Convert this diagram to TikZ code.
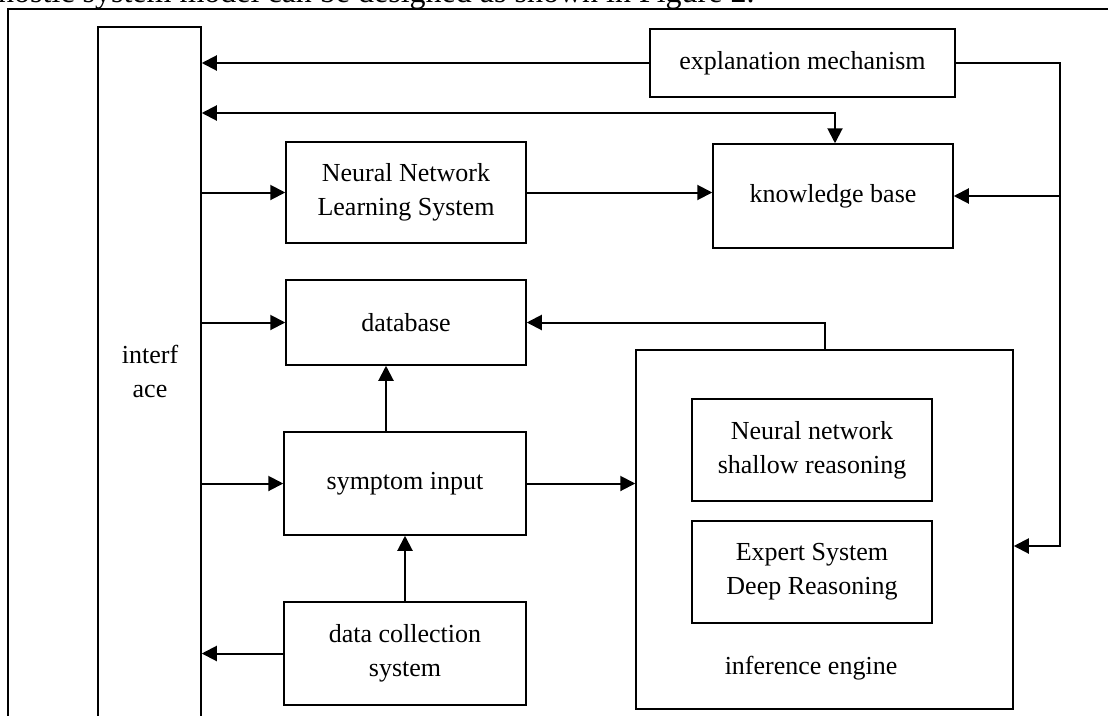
\documentclass[tikz,border=0pt]{standalone}
\usepackage{fontspec}
\setmainfont{Liberation Serif}
\usetikzlibrary{arrows.meta}
\newcommand\fsz{\fontsize{26}{34}\selectfont}
\tikzset{
  box/.style={draw, line width=1.5pt, align=center, inner sep=0pt, font=\fsz},
  lab/.style={align=center, inner sep=0pt, font=\fsz},
  arr/.style={line width=2pt, -{Triangle[length=15pt,width=15pt]}},
  arrtwo/.style={line width=2pt, {Triangle[length=15pt,width=15pt]}-{Triangle[length=15pt,width=15pt]}},
  plain/.style={line width=1.5pt}
}
\begin{document}
\begin{tikzpicture}[x=1pt,y=-1pt]
\useasboundingbox (0,0) rectangle (1108,715);
\clip (0,0) rectangle (1108,715);
\fill[white] (0,0) rectangle (1108,715);
% cut-off caption text
\node[anchor=base west, inner sep=0pt, font=\fontsize{32}{38}\selectfont] (cap) at (-2,2.5) {nostic system model can be designed as shown in Figure 2.};
% frame
\coordinate (fTL) at (8,9);
\coordinate (fTR) at (1110,9);
\coordinate (fBL) at (8,720);
\draw[plain] (fTR) -- (fTL) -- (fBL);
% interface
\node[box, minimum width=103pt, minimum height=760pt] (iface) at (149.5,407) {};
\node[lab] (ifacetext) at (150,371) {interf\\ace};
% boxes
\node[box, minimum width=305pt, minimum height=68pt] (expl) at (802.5,63) {explanation mechanism};
\node[box, minimum width=240pt, minimum height=101pt] (nn) at (406,192.5) {Neural Network\\Learning System};
\node[box, minimum width=240pt, minimum height=104pt] (kb) at (833,196) {knowledge base};
\node[box, minimum width=240pt, minimum height=85pt] (db) at (406,322.5) {database};
\node[box, minimum width=242pt, minimum height=103pt] (sym) at (405,483.5) {symptom input};
\node[box, minimum width=242pt, minimum height=103pt] (dc) at (405,653.5) {data collection\\system};
\node[box, minimum width=377pt, minimum height=359pt] (ie) at (824.5,529.5) {};
\node[lab] (ietext) at (811,668) {inference engine};
\node[box, minimum width=240pt, minimum height=102pt] (nns) at (812,450) {Neural network\\shallow reasoning};
\node[box, minimum width=240pt, minimum height=102pt] (es) at (812,572) {Expert System\\Deep Reasoning};
% connectors
\draw[arr] (expl.west) -- (iface.east |- expl.west);
\coordinate (bend) at (835,113);
\draw[arrtwo] (iface.east |- bend) -- (bend) -- (bend |- kb.north);
\draw[arr] (iface.east |- nn.west) -- (nn.west);
\draw[arr] (nn.east) -- (kb.west |- nn.east);
\draw[arr] (iface.east |- db.west) -- (db.west);
\draw[arr] (ie.north) |- (db.east);
\coordinate (sx) at (386,0);
\draw[arr] (sym.north -| sx) -- (db.south -| sx);
\draw[arr] (iface.east |- sym.west) -- (sym.west);
\draw[arr] (sym.east) -- (ie.west |- sym.east);
\draw[arr] (dc.north) -- (sym.south);
\draw[arr] (dc.west) -- (iface.east |- dc.west);
\coordinate (rt) at (1060,546);
\draw[arr] (expl.east) -| (rt) -- (ie.east |- rt);
\draw[arr] (kb.east -| rt) -- (kb.east);
\end{tikzpicture}
\end{document}
